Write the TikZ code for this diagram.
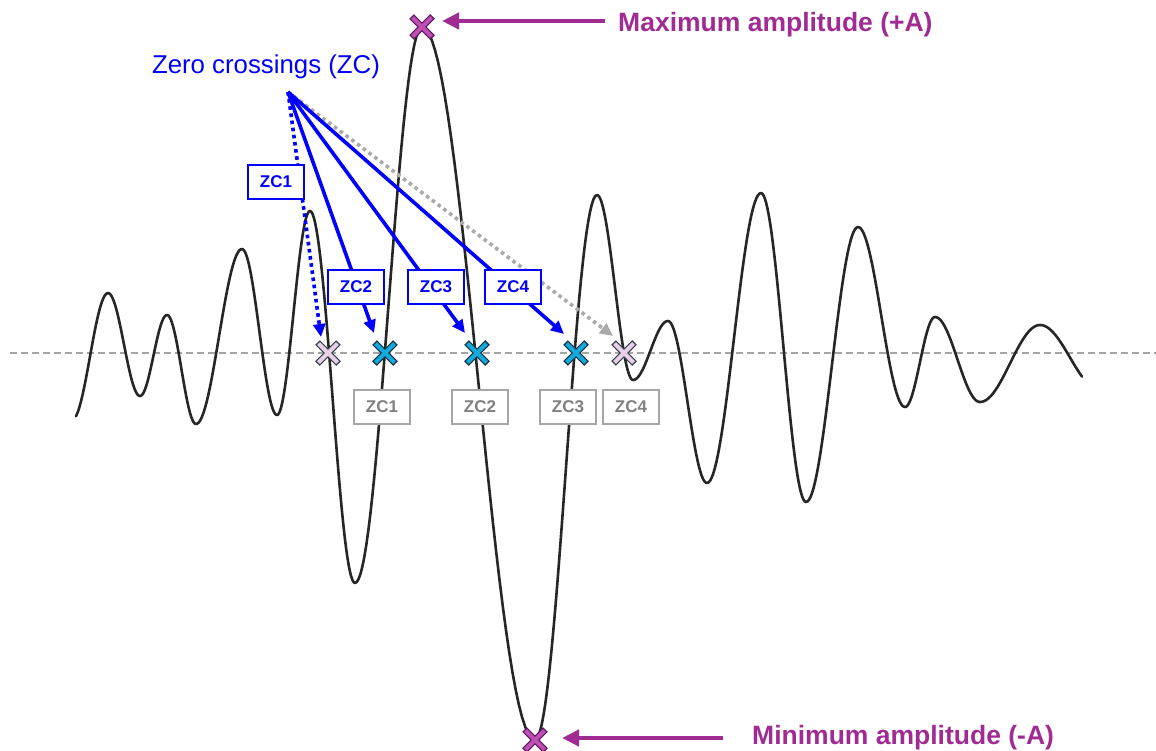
\documentclass[tikz,border=0pt]{standalone}
\usepackage{fontspec}
\setmainfont{Liberation Sans}
\usetikzlibrary{arrows.meta}
\definecolor{zcblue}{RGB}{0,0,255}
\definecolor{amppurple}{RGB}{160,43,147}
\definecolor{axisgray}{RGB}{165,165,165}
\definecolor{boxgray}{RGB}{166,166,166}
\definecolor{txtgray}{RGB}{128,128,128}
\definecolor{dotgray}{RGB}{170,170,170}
\definecolor{wavecol}{RGB}{38,38,38}
\definecolor{crosscyan}{RGB}{20,170,220}
\definecolor{crosscyanline}{RGB}{25,50,70}
\definecolor{crosspink}{RGB}{232,208,230}
\definecolor{crosspinkline}{RGB}{55,65,80}
\definecolor{crosspurple}{RGB}{190,80,180}
\definecolor{crosspurpleline}{RGB}{95,25,95}
\tikzset{
  wave/.style={draw=wavecol, line width=2.6pt, line cap=round, line join=round},
  zeroline/.style={draw=axisgray, line width=1.6pt, dash pattern=on 7pt off 4pt},
  zcarrow/.style={draw=zcblue, line width=3.6pt, -{Triangle[length=13pt,width=12pt]}},
  zcdotted/.style={zcarrow, dash pattern=on 3.6pt off 3.6pt},
  grayarrow/.style={draw=dotgray, line width=3.6pt, dash pattern=on 3.6pt off 3.6pt, -{Triangle[length=13pt,width=12pt]}},
  labelbox/.style={line width=1.5pt, fill=white, minimum width=56pt, minimum height=34pt, inner sep=0pt, font=\bfseries\fontsize{17}{19}\selectfont},
  bluebox/.style={labelbox, draw=zcblue, text=zcblue},
  graybox/.style={labelbox, draw=boxgray, text=txtgray},
  amparrow/.style={draw=amppurple, line width=4.5pt, -{Triangle[length=17pt,width=16pt]}},
  amplabel/.style={text=amppurple, font=\bfseries\fontsize{26.5}{30}\selectfont, inner sep=0pt, anchor=base west},
  pics/xmark/.style n args={2}{code={
    \draw[line width=6.6pt, draw=#2] (-10.5,-10.5) -- (10.5,10.5) (-10.5,10.5) -- (10.5,-10.5);
    \draw[line width=4pt, draw=#1] (-9.5,-9.5) -- (9.5,9.5) (-9.5,9.5) -- (9.5,-9.5);
  }}
}
\begin{document}
\begin{tikzpicture}[x=1pt,y=-1pt]
\useasboundingbox (0,0) rectangle (1156,750);

% zero line
\coordinate (zl) at (10,353);
\coordinate (zr) at (1156,353);
\draw[zeroline] (zl) -- (zr);

% waveform (cosine segments between extrema)
\draw[wave] plot[domain=0.111:1, samples=20, variable=\t] ({72+36*\t},{356.5+63.5*cos(180*\t)});
\foreach \xa/\ya/\xb/\yb in {108/293/140/396, 140/396/167/315, 167/315/196/424, 196/424/242/249,
  242/249/277/415, 277/415/310/211, 310/211/355/583, 355/583/422/27, 422/27/535/740,
  535/740/597/195, 597/195/633/380, 633/380/668/321, 668/321/707/483, 707/483/761/193,
  761/193/806/502, 806/502/858/227, 858/227/905/407, 905/407/935/317, 935/317/980/402,
  980/402/1040/325}{
  \draw[wave] plot[domain=0:1, samples=36, variable=\t] ({\xa+(\xb-\xa)*\t},{(\ya+\yb)/2+(\ya-\yb)/2*cos(180*\t)});
}
\draw[wave] plot[domain=0:0.7, samples=20, variable=\t] ({1040+60*\t},{357.5-32.5*cos(180*\t)});

% title
\node[text=zcblue, font=\fontsize{25.8}{30}\selectfont, inner sep=0pt, anchor=base] (title) at (266,73) {Zero crossings (ZC)};

% arrows from common origin
\coordinate (o) at (288,92);
\coordinate (t1) at (321,337);
\coordinate (t2) at (374,333);
\coordinate (t3) at (465,333);
\coordinate (t4) at (564,334);
\coordinate (t5) at (613,336);
\draw[grayarrow] (o) -- (t5);
\draw[zcdotted] (o) -- (t1);
\draw[zcarrow] (o) -- (t2);
\draw[zcarrow] (o) -- (t3);
\draw[zcarrow] (o) -- (t4);

% blue labels
\node[bluebox] (b1) at (276,182) {ZC1};
\node[bluebox] (b2) at (356,287) {ZC2};
\node[bluebox] (b3) at (436,287) {ZC3};
\node[bluebox] (b4) at (513,287) {ZC4};

% gray labels
\node[graybox] (g1) at (382,407) {ZC1};
\node[graybox] (g2) at (480,407) {ZC2};
\node[graybox] (g3) at (568,407) {ZC3};
\node[graybox] (g4) at (631,407) {ZC4};

% crossing marks
\coordinate (x0) at (328,353);
\coordinate (x1) at (385,353);
\coordinate (x2) at (477,353);
\coordinate (x3) at (576,353);
\coordinate (x4) at (624,353);
\pic at (x0) {xmark={crosspink}{crosspinkline}};
\pic at (x1) {xmark={crosscyan}{crosscyanline}};
\pic at (x2) {xmark={crosscyan}{crosscyanline}};
\pic at (x3) {xmark={crosscyan}{crosscyanline}};
\pic at (x4) {xmark={crosspink}{crosspinkline}};

% amplitude marks
\coordinate (pmax) at (422,27);
\coordinate (pmin) at (535,740);
\pic at (pmax) {xmark={crosspurple}{crosspurpleline}};
\pic at (pmin) {xmark={crosspurple}{crosspurpleline}};

\node[amplabel] (maxlab) at (618,31) {Maximum amplitude (+A)};
\node[amplabel] (minlab) at (752,744) {Minimum amplitude (-A)};
\coordinate (maxtail) at (605,21);
\coordinate (maxtip) at (442,21);
\coordinate (mintail) at (723,738);
\coordinate (mintip) at (562,738);
\draw[amparrow] (maxtail) -- (maxtip);
\draw[amparrow] (mintail) -- (mintip);
\end{tikzpicture}
\end{document}
